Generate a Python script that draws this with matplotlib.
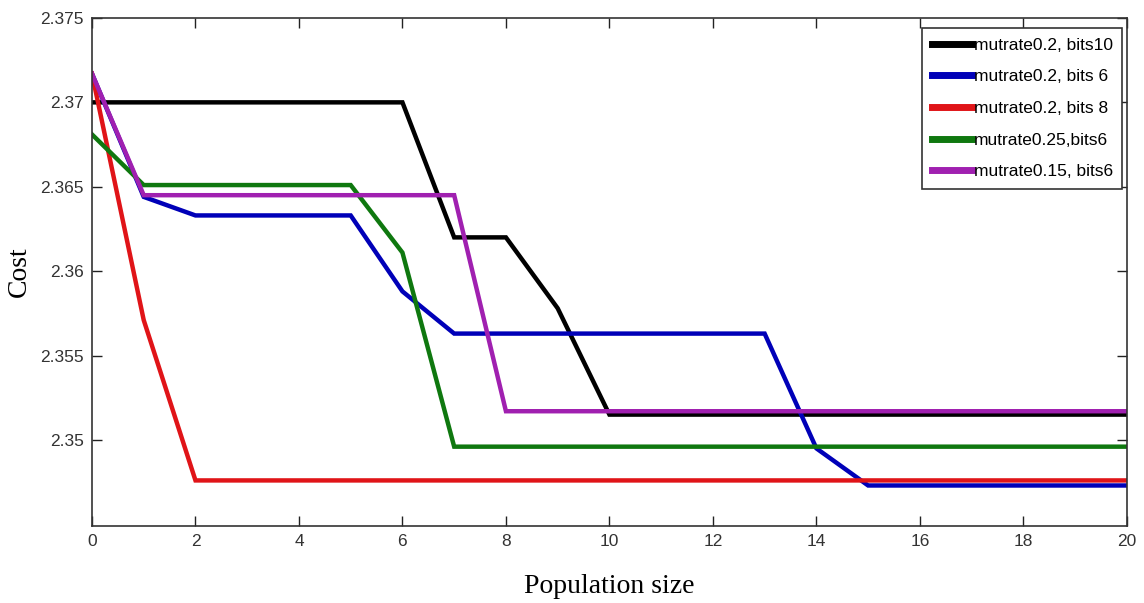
import matplotlib
matplotlib.use("Agg")
import matplotlib.pyplot as plt

pop = list(range(0, 21))

black = [2.3700, 2.3700, 2.3700, 2.3700, 2.3700, 2.3700, 2.3700, 2.3620, 2.3620, 2.3578, 2.3515,
         2.3515, 2.3515, 2.3515, 2.3515, 2.3515, 2.3515, 2.3515, 2.3515, 2.3515, 2.3515]
blue = [2.3717, 2.3644, 2.3633, 2.3633, 2.3633, 2.3633, 2.3588, 2.3563, 2.3563, 2.3563, 2.3563,
        2.3563, 2.3563, 2.3563, 2.3495, 2.3473, 2.3473, 2.3473, 2.3473, 2.3473, 2.3473]
red = [2.3717, 2.3571, 2.3476, 2.3476, 2.3476, 2.3476, 2.3476, 2.3476, 2.3476, 2.3476, 2.3476,
       2.3476, 2.3476, 2.3476, 2.3476, 2.3476, 2.3476, 2.3476, 2.3476, 2.3476, 2.3476]
green = [2.3681, 2.3651, 2.3651, 2.3651, 2.3651, 2.3651, 2.3611, 2.3496, 2.3496, 2.3496, 2.3496,
         2.3496, 2.3496, 2.3496, 2.3496, 2.3496, 2.3496, 2.3496, 2.3496, 2.3496, 2.3496]
purple = [2.3717, 2.3645, 2.3645, 2.3645, 2.3645, 2.3645, 2.3645, 2.3645, 2.3517, 2.3517, 2.3517,
          2.3517, 2.3517, 2.3517, 2.3517, 2.3517, 2.3517, 2.3517, 2.3517, 2.3517, 2.3517]

labels = ["mutrate0.2, bits10", "mutrate0.2, bits 6", "mutrate0.2, bits 8",
          "mutrate0.25,bits6", "mutrate0.15, bits6"]
colors = ["#000000", "#0000b8", "#e01418", "#0f780f", "#a020b0"]
xticks = [0, 2, 4, 6, 8, 10, 12, 14, 16, 18, 20]
yticks = [2.35, 2.355, 2.36, 2.365, 2.37, 2.375]
yticklabels = ["2.35", "2.355", "2.36", "2.365", "2.37", "2.375"]

fig = plt.figure(figsize=(11.44, 6.03), dpi=100)
ax = fig.add_axes([0.0804, 0.1277, 0.9046, 0.8425])

for y, c, l in zip([black, blue, red, green, purple], colors, labels):
    ax.plot(pop, y, color=c, lw=3.2, label=l, solid_joinstyle="miter")

ax.set_xlim(0, 20)
ax.set_ylim(2.3449, 2.375)
ax.set_xticks(xticks)
ax.set_xticklabels([str(t) for t in xticks])
ax.set_yticks(yticks)
ax.set_yticklabels(yticklabels)
ax.tick_params(direction="in", length=7, width=1, top=True, right=True,
               labelsize=12.5, colors="#222222", pad=6)
for lab in ax.get_xticklabels() + ax.get_yticklabels():
    lab.set_family("Liberation Sans")
    lab.set_color("#333333")
for s in ax.spines.values():
    s.set_color("#333333")
    s.set_linewidth(1.2)

ax.set_xlabel("Population size", family="Liberation Serif", fontsize=20, labelpad=18)
ax.set_ylabel("Cost", family="Liberation Serif", fontsize=20, labelpad=6)

leg = ax.legend(loc="upper right", bbox_to_anchor=(0.9955, 0.98), fancybox=False,
                edgecolor="#333333", framealpha=1, handlelength=2.3, handletextpad=0.1,
                borderpad=0.55, labelspacing=0.95, borderaxespad=0.0,
                prop={"family": "Liberation Sans", "size": 12.5})
leg.get_frame().set_linewidth(1.2)
for h in leg.get_lines():
    h.set_linewidth(5)

fig.savefig("out.png", dpi=100)
